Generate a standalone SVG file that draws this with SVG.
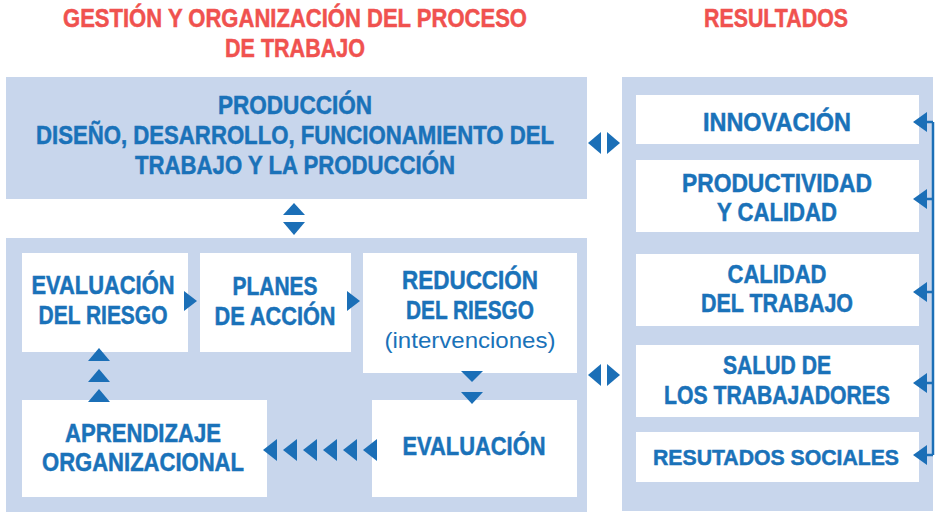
<svg xmlns="http://www.w3.org/2000/svg" width="936" height="512" viewBox="0 0 936 512">
<style>
.panel{fill:#c8d6ec}
.box{fill:#ffffff}
.t{font-family:"Liberation Sans",Arial,sans-serif;font-weight:bold;font-size:25px;fill:#1a72b9;stroke:#1a72b9;stroke-width:0.5;text-anchor:middle}
.s{font-size:22px}
.r{font-family:"Liberation Sans",Arial,sans-serif;font-weight:normal;font-size:22px;fill:#1a72b9;text-anchor:middle}
.h{font-family:"Liberation Sans",Arial,sans-serif;font-weight:bold;font-size:25px;fill:#f0524f;stroke:#f0524f;stroke-width:0.5;text-anchor:middle}
.a{fill:#1b6fb7}
.ln{stroke:#1b6fb7;stroke-width:2.5;fill:none}
</style>
<g id="headers">
<text class="h" x="295" y="27" textLength="464" lengthAdjust="spacingAndGlyphs">GESTIÓN Y ORGANIZACIÓN DEL PROCESO</text>
<text class="h" x="295" y="57" textLength="140" lengthAdjust="spacingAndGlyphs">DE TRABAJO</text>
<text class="h" x="776" y="27" textLength="144" lengthAdjust="spacingAndGlyphs">RESULTADOS</text>
</g>
<g id="produccion">
<rect class="panel" x="6" y="77" width="581" height="122"/>
<text class="t" x="295" y="114" textLength="154" lengthAdjust="spacingAndGlyphs">PRODUCCIÓN</text>
<text class="t" x="295" y="144" textLength="518" lengthAdjust="spacingAndGlyphs">DISEÑO, DESARROLLO, FUNCIONAMIENTO DEL</text>
<text class="t" x="295" y="174" textLength="320" lengthAdjust="spacingAndGlyphs">TRABAJO Y LA PRODUCCIÓN</text>
</g>
<g id="proceso">
<rect class="panel" x="6" y="238" width="581" height="274"/>
</g>
<g id="resultados">
<rect class="panel" x="622" y="77" width="311" height="434"/>
</g>
<g id="evaluacion-riesgo">
<rect class="box" x="22" y="253" width="166" height="99"/>
<text class="t" x="103" y="294" textLength="143" lengthAdjust="spacingAndGlyphs">EVALUACIÓN</text>
<text class="t" x="103" y="324" textLength="129" lengthAdjust="spacingAndGlyphs">DEL RIESGO</text>
</g>
<g id="planes">
<rect class="box" x="200" y="253" width="151" height="99"/>
<text class="t" x="275" y="295" textLength="85" lengthAdjust="spacingAndGlyphs">PLANES</text>
<text class="t" x="275" y="325" textLength="121" lengthAdjust="spacingAndGlyphs">DE ACCIÓN</text>
</g>
<g id="reduccion">
<rect class="box" x="363" y="253" width="214" height="120"/>
<text class="t" x="470" y="289" textLength="136" lengthAdjust="spacingAndGlyphs">REDUCCIÓN</text>
<text class="t" x="470" y="319" textLength="128" lengthAdjust="spacingAndGlyphs">DEL RIESGO</text>
<text class="r" x="470" y="348" textLength="171" lengthAdjust="spacingAndGlyphs">(intervenciones)</text>
</g>
<g id="aprendizaje">
<rect class="box" x="22" y="400" width="245" height="97"/>
<text class="t" x="143" y="442" textLength="156" lengthAdjust="spacingAndGlyphs">APRENDIZAJE</text>
<text class="t" x="143" y="471" textLength="202" lengthAdjust="spacingAndGlyphs">ORGANIZACIONAL</text>
</g>
<g id="evaluacion">
<rect class="box" x="372" y="400" width="205" height="97"/>
<text class="t" x="474" y="455" textLength="143" lengthAdjust="spacingAndGlyphs">EVALUACIÓN</text>
</g>
<g id="innovacion">
<rect class="box" x="636" y="95" width="283" height="49"/>
<text class="t" x="777" y="131" textLength="148" lengthAdjust="spacingAndGlyphs">INNOVACIÓN</text>
</g>
<g id="productividad">
<rect class="box" x="636" y="160" width="283" height="72"/>
<text class="t" x="777" y="192" textLength="190" lengthAdjust="spacingAndGlyphs">PRODUCTIVIDAD</text>
<text class="t" x="777" y="221" textLength="120" lengthAdjust="spacingAndGlyphs">Y CALIDAD</text>
</g>
<g id="calidad-trabajo">
<rect class="box" x="636" y="254" width="283" height="72"/>
<text class="t" x="777" y="283" textLength="99" lengthAdjust="spacingAndGlyphs">CALIDAD</text>
<text class="t" x="777" y="312" textLength="152" lengthAdjust="spacingAndGlyphs">DEL TRABAJO</text>
</g>
<g id="salud">
<rect class="box" x="636" y="345" width="283" height="72"/>
<text class="t" x="777" y="374" textLength="108" lengthAdjust="spacingAndGlyphs">SALUD DE</text>
<text class="t" x="777" y="404" textLength="226" lengthAdjust="spacingAndGlyphs">LOS TRABAJADORES</text>
</g>
<g id="sociales">
<rect class="box" x="636" y="432" width="283" height="50"/>
<text class="t s" x="776" y="465" textLength="246" lengthAdjust="spacingAndGlyphs">RESUTADOS SOCIALES</text>
</g>
<g id="connectors">
<polygon class="a" points="283,215 294,203 305,215"/>
<polygon class="a" points="283,222 305,222 294,235"/>
<polygon class="a" points="184,291 197,301 184,311"/>
<polygon class="a" points="347,291 360,301 347,311"/>
<polygon class="a" points="461,371 483,371 472,382"/>
<polygon class="a" points="461,392 483,392 472,404"/>
<polygon class="a" points="88,361 99,348 110,361"/>
<polygon class="a" points="88,382 99,369 110,382"/>
<polygon class="a" points="88,402 99,389 110,402"/>
<polygon class="a" points="263,450 277,439 277,461"/>
<polygon class="a" points="283,450 297,439 297,461"/>
<polygon class="a" points="303,450 317,439 317,461"/>
<polygon class="a" points="323,450 337,439 337,461"/>
<polygon class="a" points="343,450 357,439 357,461"/>
<polygon class="a" points="363,450 377,439 377,461"/>
<polygon class="a" points="601,132 588,143 601,154"/>
<polygon class="a" points="607,132 620,143 607,154"/>
<polygon class="a" points="601,364 588,375 601,386"/>
<polygon class="a" points="607,364 620,375 607,386"/>
<path class="ln" d="M933,122 V455 M933,122 H924 M933,199 H924 M933,292 H924 M933,383 H924 M933,455 H924"/>
<polygon class="a" points="913,122 927,112 927,132"/>
<polygon class="a" points="913,199 927,189 927,209"/>
<polygon class="a" points="913,292 927,282 927,302"/>
<polygon class="a" points="913,383 927,373 927,393"/>
<polygon class="a" points="913,455 927,445 927,465"/>
</g>
</svg>
